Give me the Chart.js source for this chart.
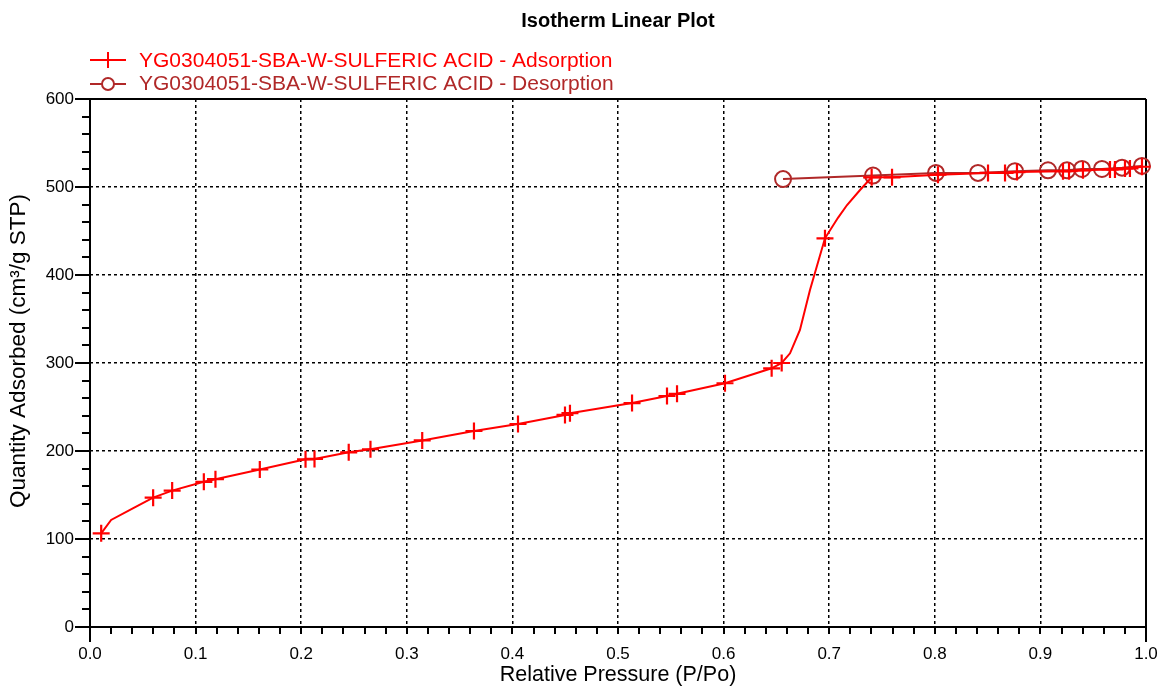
<!DOCTYPE html>
<html>
<head>
<meta charset="utf-8">
<script src="https://cdn.jsdelivr.net/npm/chart.js@4/dist/chart.umd.min.js"></script>
<style>
html, body { margin: 0; padding: 0; background: #fff; }
</style>
</head>
<body>
<canvas id="myChart" width="1163" height="688"></canvas>
<script>
// adsorption branch (relative pressure, quantity adsorbed); adsMark = point has a "+" marker
var adsP = [0.0106, 0.020, 0.041, 0.0598, 0.0778, 0.1078, 0.1188, 0.1608, 0.2041, 0.2126,
            0.245, 0.2656, 0.3146, 0.3636, 0.4053, 0.4498, 0.4545, 0.5133, 0.5464, 0.5559,
            0.6013, 0.6455, 0.655, 0.6629, 0.6723, 0.6818, 0.696, 0.7083, 0.7169, 0.7292,
            0.7402, 0.7595, 0.803, 0.8504, 0.8665, 0.8778, 0.9214, 0.9271, 0.9403, 0.9659,
            0.9706, 0.9801, 0.9848, 0.9962];
var adsQ = [106.5, 121.6, 135, 147, 155, 165, 168, 179, 190.5, 191,
            198.5, 202, 212, 222.7, 230.7, 241, 243, 254.5, 262.5, 265,
            277, 294, 300, 311, 337.5, 383, 441.7, 465, 479.5, 496.6,
            511, 511, 514, 516, 516, 517, 518, 518, 519, 520,
            520, 521, 521, 523];
var adsMark = [1, 0, 0, 1, 1, 1, 1, 1, 1, 1,
               1, 1, 1, 1, 1, 1, 1, 1, 1, 1,
               1, 1, 1, 0, 0, 0, 1, 0, 0, 0,
               1, 1, 1, 1, 1, 1, 1, 1, 1, 1,
               1, 1, 1, 1];

// desorption branch
var desP = [0.6563, 0.7415, 0.8011, 0.8409, 0.8759, 0.9072, 0.9252, 0.9394, 0.9583, 0.9773, 0.9962];
var desQ = [509, 513, 516, 516, 518, 519, 519, 520.5, 520.5, 522, 524];

var xTickVals = [0, 0.1, 0.2, 0.3, 0.4, 0.5, 0.6, 0.7, 0.8, 0.9, 1.0];
var xTickLabels = ['0.0', '0.1', '0.2', '0.3', '0.4', '0.5', '0.6', '0.7', '0.8', '0.9', '1.0'];
var yTickVals = [0, 100, 200, 300, 400, 500, 600];
var yTickLabels = ['0', '100', '200', '300', '400', '500', '600'];

var adsLabel = 'YG0304051-SBA-W-SULFERIC ACID - Adsorption';
var desLabel = 'YG0304051-SBA-W-SULFERIC ACID - Desorption';
var yTitle = 'Quantity Adsorbed (cm³/g STP)';
var red = '#ff0000';
var darkRed = '#b02828';
var FONT = '"Liberation Sans", Arial, sans-serif';

function points(xs, ys) {
    return xs.map(function (x, i) { return { x: x, y: ys[i] }; });
}

// box, tick marks, title, y title and legend
var frame = {
    id: 'frame',
    beforeDatasetsDraw: function (chart) {
        var ctx = chart.ctx, a = chart.chartArea;
        var sx = chart.scales.x, sy = chart.scales.y;
        ctx.save();
        ctx.strokeStyle = '#000';
        ctx.lineWidth = 2;
        ctx.beginPath();
        ctx.moveTo(a.left, a.top); ctx.lineTo(a.right, a.top);
        ctx.moveTo(a.left, a.bottom); ctx.lineTo(a.right, a.bottom);
        ctx.moveTo(a.left, a.top); ctx.lineTo(a.left, a.bottom + 15);
        ctx.moveTo(a.right, a.top); ctx.lineTo(a.right, a.bottom + 15);
        var v, p;
        for (v = 0; v <= 600; v += 20) {
            p = Math.round(sy.getPixelForValue(v));
            ctx.moveTo(a.left - (v % 100 === 0 ? 15 : 8), p);
            ctx.lineTo(a.left, p);
        }
        for (v = 0; v <= 50; v++) {
            p = Math.round(sx.getPixelForValue(v / 50));
            ctx.moveTo(p, a.bottom);
            ctx.lineTo(p, a.bottom + 7);
        }
        ctx.stroke();
        ctx.restore();
    },
    afterDraw: function (chart) {
        var ctx = chart.ctx, a = chart.chartArea;
        ctx.save();
        ctx.fillStyle = '#000';
        ctx.font = 'bold 20px ' + FONT;
        ctx.textAlign = 'center';
        ctx.textBaseline = 'middle';
        ctx.fillText('Isotherm Linear Plot', (a.left + a.right) / 2, 21);

        ctx.save();
        ctx.translate(19, 351);
        ctx.rotate(-Math.PI / 2);
        ctx.font = '22.5px ' + FONT;
        ctx.fillText(yTitle, 0, 0);
        ctx.restore();

        ctx.textAlign = 'left';
        ctx.font = '21px ' + FONT;
        // adsorption entry
        ctx.strokeStyle = red; ctx.fillStyle = red; ctx.lineWidth = 2;
        ctx.beginPath();
        ctx.moveTo(90, 60); ctx.lineTo(126, 60);
        ctx.moveTo(108, 52); ctx.lineTo(108, 68);
        ctx.stroke();
        ctx.fillText(adsLabel, 139, 61);
        // desorption entry
        ctx.strokeStyle = darkRed; ctx.fillStyle = darkRed;
        ctx.beginPath();
        ctx.moveTo(90, 84); ctx.lineTo(102, 84);
        ctx.moveTo(114, 84); ctx.lineTo(126, 84);
        ctx.stroke();
        ctx.beginPath();
        ctx.arc(108, 84, 6, 0, Math.PI * 2);
        ctx.stroke();
        ctx.fillText(desLabel, 139, 84);
        ctx.restore();
    }
};

var myChart = new Chart(document.getElementById('myChart'), {
    type: 'scatter',
    data: {
        datasets: [{
            label: adsLabel,
            data: points(adsP, adsQ),
            showLine: true,
            borderColor: red,
            borderWidth: 2,
            pointStyle: 'cross',
            pointRadius: function (c) { return adsMark[c.dataIndex] ? 8.5 : 0; },
            pointBorderColor: red,
            pointBorderWidth: 2.2,
            clip: false
        }, {
            label: desLabel,
            data: points(desP, desQ),
            showLine: true,
            borderColor: darkRed,
            borderWidth: 2,
            pointStyle: 'circle',
            pointRadius: 8,
            pointBackgroundColor: 'rgba(0,0,0,0)',
            pointBorderColor: darkRed,
            pointBorderWidth: 2,
            clip: false
        }]
    },
    options: {
        responsive: false,
        animation: false,
        devicePixelRatio: 1,
        layout: { padding: { top: 99, right: 17, left: 0, bottom: 0 } },
        plugins: { legend: { display: false }, tooltip: { enabled: false } },
        scales: {
            x: {
                type: 'linear', min: 0, max: 1,
                afterBuildTicks: function (s) { s.ticks = xTickVals.map(function (v) { return { value: v }; }); },
                afterFit: function (s) { s.height = 61; s.paddingLeft = 0; s.paddingRight = 0; },
                ticks: {
                    autoSkip: false, maxRotation: 0, padding: 17, color: '#000',
                    font: { family: FONT, size: 17 },
                    callback: function (v, i) { return xTickLabels[i]; }
                },
                grid: { drawTicks: false, color: '#000', lineWidth: 1.5 },
                border: { display: false, dash: [3, 3] },
                title: {
                    display: true, text: 'Relative Pressure (P/Po)', color: '#000',
                    font: { family: FONT, size: 21.5 }, padding: 0
                }
            },
            y: {
                type: 'linear', min: 0, max: 600,
                afterBuildTicks: function (s) { s.ticks = yTickVals.map(function (v) { return { value: v }; }); },
                afterFit: function (s) { s.width = 90; s.paddingTop = 0; s.paddingBottom = 0; },
                ticks: {
                    padding: 16, color: '#000',
                    font: { family: FONT, size: 17 },
                    callback: function (v, i) { return yTickLabels[i]; }
                },
                grid: { drawTicks: false, color: '#000', lineWidth: 1.5 },
                border: { display: false, dash: [3, 3] }
            }
        }
    },
    plugins: [frame]
});
</script>
</body>
</html>
